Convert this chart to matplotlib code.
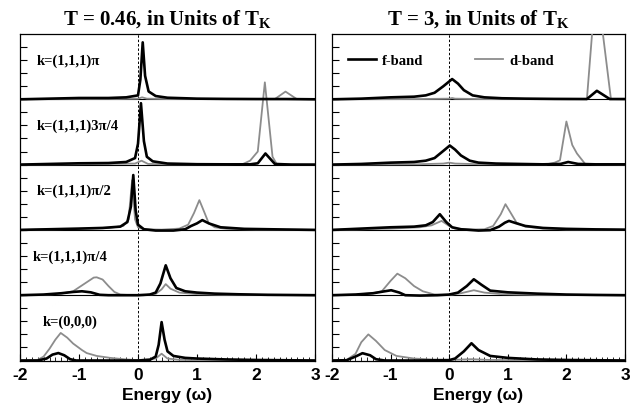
import matplotlib
matplotlib.use("Agg")
import matplotlib.pyplot as plt
from matplotlib.ticker import MultipleLocator
from matplotlib.lines import Line2D

plt.rcParams['mathtext.fontset'] = 'custom'
plt.rcParams['mathtext.rm'] = 'Liberation Serif:bold'
plt.rcParams['mathtext.bf'] = 'Liberation Serif:bold'

# ---------------- data ----------------
titles = ["T = 0.46, in Units of T$_{\\rm K}$", "T = 3, in Units of T$_{\\rm K}$"]
row_labels = ["k=(1,1,1)\u03c0", "k=(1,1,1)3\u03c0/4", "k=(1,1,1)\u03c0/2", "k=(1,1,1)\u03c0/4", "k=(0,0,0)"]
xticks = [-2, -1, 0, 1, 2, 3]
xtick_labels = ["-2", "-1", "0", "1", "2", "3"]
legend_labels = ["f-band", "d-band"]

# Left panel (T = 0.46), rows top -> bottom
L1_f_x = [-2, -1.5, -1.0, -0.5, -0.2, 0.0, 0.04, 0.08, 0.12, 0.18, 0.3, 0.5, 1.0, 1.5, 2.0, 2.5, 3.0]
L1_f_y = [0.0, 0.05, 0.1, 0.1, 0.15, 0.3, 1.5, 4.36, 1.8, 0.6, 0.25, 0.12, 0.05, 0.03, 0.02, 0.02, 0.0]
L1_d_x = [-2, -0.5, 0.0, 0.07, 0.15, 0.5, 2.32, 2.5, 2.69, 3.0]
L1_d_y = [0.0, 0.02, 0.05, 0.15, 0.05, 0.02, 0.02, 0.59, 0.02, 0.0]

L2_f_x = [-2, -1.5, -1, -0.5, -0.2, -0.05, 0.0, 0.05, 0.1, 0.15, 0.25, 0.5, 1.0, 1.5, 1.9, 2.03, 2.16, 2.32, 2.6, 3.0]
L2_f_y = [0.0, 0.05, 0.1, 0.12, 0.2, 0.5, 1.6, 4.7, 1.8, 0.6, 0.25, 0.08, 0.03, 0.02, 0.02, 0.1, 0.85, 0.05, 0.0, 0.0]
L2_d_x = [-2, -0.5, -0.05, 0.06, 0.17, 0.5, 1.5, 1.78, 1.9, 2.03, 2.15, 2.28, 2.35, 2.6, 3.0]
L2_d_y = [0.0, 0.05, 0.08, 0.3, 0.05, 0.02, 0.02, 0.05, 0.3, 1.0, 6.3, 0.6, 0.05, 0.02, 0.0]

L3_f_x = [-2, -1.5, -1, -0.6, -0.3, -0.18, -0.12, -0.08, -0.04, 0.0, 0.1, 0.3, 0.6, 0.8, 0.9, 1.0, 1.09, 1.2, 1.4, 1.8, 2.5, 3.0]
L3_f_y = [0.0, 0.05, 0.1, 0.15, 0.25, 0.6, 1.8, 4.2, 1.5, 0.4, 0.05, -0.05, -0.05, 0.05, 0.3, 0.5, 0.75, 0.5, 0.2, 0.08, 0.03, 0.0]
L3_d_x = [-2, -1, -0.5, -0.25, -0.16, -0.1, -0.05, 0.0, 0.1, 0.4, 0.7, 0.85, 0.95, 1.04, 1.12, 1.2, 1.3, 1.5, 2.0, 3.0]
L3_d_y = [0.0, 0.08, 0.15, 0.3, 0.8, 3.8, 0.8, 0.2, 0.05, 0.02, 0.1, 0.4, 1.3, 2.28, 1.4, 0.5, 0.2, 0.08, 0.03, 0.0]

L4_f_x = [-2, -1.6, -1.3, -1.1, -0.95, -0.8, -0.65, -0.5, -0.2, 0.0, 0.2, 0.3, 0.38, 0.47, 0.55, 0.65, 0.8, 1.0, 1.3, 1.7, 2.2, 3.0]
L4_f_y = [0.0, 0.05, 0.15, 0.25, 0.3, 0.22, 0.03, 0.0, 0.0, 0.0, 0.05, 0.2, 0.9, 2.29, 1.3, 0.55, 0.3, 0.2, 0.12, 0.07, 0.03, 0.0]
L4_d_x = [-2, -1.6, -1.3, -1.1, -0.9, -0.75, -0.7, -0.6, -0.5, -0.4, -0.3, -0.1, 0.1, 0.3, 0.4, 0.47, 0.55, 0.7, 1.0, 1.5, 3.0]
L4_d_y = [0.0, 0.03, 0.12, 0.3, 0.9, 1.35, 1.37, 1.2, 0.7, 0.25, 0.05, 0.0, 0.0, 0.1, 0.45, 0.85, 0.5, 0.2, 0.08, 0.03, 0.0]

L5_f_x = [-2, -1.7, -1.55, -1.45, -1.35, -1.25, -1.15, -1.05, -0.5, 0.0, 0.2, 0.3, 0.35, 0.4, 0.45, 0.5, 0.6, 0.8, 1.0, 1.5, 2.0, 3.0]
L5_f_y = [0.0, 0.0, 0.15, 0.45, 0.57, 0.4, 0.1, 0.0, 0.0, 0.0, 0.05, 0.3, 1.2, 2.94, 1.6, 0.7, 0.35, 0.2, 0.15, 0.08, 0.04, 0.0]
L5_d_x = [-2, -1.7, -1.6, -1.5, -1.4, -1.31, -1.2, -1.1, -0.95, -0.87, -0.7, -0.47, -0.2, 0.0, 0.3, 0.4, 0.5, 0.7, 1.0, 2.0, 3.0]
L5_d_y = [0.0, 0.05, 0.3, 0.9, 1.6, 2.11, 1.75, 1.3, 0.8, 0.57, 0.35, 0.2, 0.08, 0.03, 0.15, 0.52, 0.15, 0.05, 0.02, 0.01, 0.0]

# Right panel (T = 3), rows top -> bottom
R1_f_x = [-2, -1.5, -1.0, -0.6, -0.4, -0.25, -0.1, 0.05, 0.15, 0.25, 0.4, 0.6, 0.9, 1.3, 1.8, 2.35, 2.52, 2.74, 3.0]
R1_f_y = [0.0, 0.05, 0.15, 0.2, 0.3, 0.5, 1.0, 1.55, 1.2, 0.7, 0.3, 0.15, 0.08, 0.05, 0.03, 0.02, 0.65, 0.02, 0.02]
R1_d_x = [-2, -0.5, 0.0, 0.05, 0.1, 0.5, 2.0, 2.35, 2.51, 2.76, 3.0]
R1_d_y = [0.0, 0.02, 0.05, 0.1, 0.05, 0.02, 0.01, 0.02, 9.1, 0.02, 0.0]

R2_f_x = [-2, -1.5, -1.0, -0.6, -0.4, -0.25, -0.1, 0.01, 0.1, 0.2, 0.35, 0.5, 0.8, 1.2, 1.6, 1.9, 2.03, 2.2, 2.5, 3.0]
R2_f_y = [0.0, 0.05, 0.15, 0.2, 0.3, 0.5, 1.05, 1.46, 1.15, 0.7, 0.3, 0.15, 0.08, 0.05, 0.02, 0.05, 0.2, 0.05, 0.02, 0.02]
R2_d_x = [-2, -0.5, -0.1, 0.0, 0.1, 0.5, 1.4, 1.66, 1.8, 1.89, 2.0, 2.1, 2.18, 2.32, 2.5, 3.0]
R2_d_y = [0.0, 0.03, 0.08, 0.15, 0.08, 0.03, 0.02, 0.02, 0.15, 0.33, 3.3, 1.5, 0.85, 0.05, 0.02, 0.0]

R3_f_x = [-2, -1.5, -1.0, -0.6, -0.4, -0.28, -0.16, -0.05, 0.05, 0.2, 0.5, 0.7, 0.85, 0.95, 1.02, 1.15, 1.3, 1.6, 2.0, 2.5, 3.0]
R3_f_y = [0.0, 0.1, 0.2, 0.25, 0.35, 0.6, 1.2, 0.6, 0.2, 0.05, -0.05, -0.02, 0.25, 0.55, 0.69, 0.5, 0.3, 0.15, 0.08, 0.04, 0.02]
R3_d_x = [-2, -1, -0.5, -0.3, -0.13, 0.0, 0.1, 0.4, 0.6, 0.75, 0.88, 0.96, 1.05, 1.15, 1.3, 1.6, 2.0, 3.0]
R3_d_y = [0.0, 0.1, 0.2, 0.35, 0.69, 0.3, 0.1, 0.03, 0.05, 0.3, 1.2, 1.97, 1.3, 0.55, 0.25, 0.1, 0.04, 0.0]

R4_f_x = [-2, -1.6, -1.3, -1.1, -0.99, -0.85, -0.75, -0.5, -0.2, 0.0, 0.15, 0.3, 0.42, 0.55, 0.7, 1.0, 1.5, 2.0, 2.5, 3.0]
R4_f_y = [0.0, 0.05, 0.15, 0.3, 0.38, 0.2, 0.0, -0.03, 0.0, 0.05, 0.2, 0.7, 1.22, 0.8, 0.35, 0.22, 0.12, 0.05, 0.02, 0.0]
R4_d_x = [-2, -1.6, -1.3, -1.15, -1.0, -0.885, -0.75, -0.6, -0.45, -0.25, 0.0, 0.2, 0.42, 0.6, 0.9, 1.5, 3.0]
R4_d_y = [0.0, 0.05, 0.15, 0.3, 1.1, 1.65, 1.3, 0.7, 0.3, 0.05, 0.02, 0.15, 0.38, 0.2, 0.08, 0.03, 0.0]

R5_f_x = [-2, -1.75, -1.6, -1.48, -1.35, -1.25, -1.1, -0.5, 0.0, 0.1, 0.25, 0.38, 0.5, 0.7, 1.0, 1.5, 2.0, 3.0]
R5_f_y = [0.0, 0.02, 0.3, 0.56, 0.4, 0.1, 0.0, 0.0, 0.03, 0.15, 0.7, 1.32, 0.8, 0.35, 0.2, 0.08, 0.04, 0.0]
R5_d_x = [-2, -1.75, -1.6, -1.5, -1.38, -1.25, -1.1, -0.9, -0.6, -0.3, 0.0, 0.38, 0.7, 1.5, 3.0]
R5_d_y = [0.0, 0.05, 0.5, 1.4, 2.0, 1.5, 0.8, 0.35, 0.15, 0.08, 0.04, 0.1, 0.04, 0.02, 0.0]

left_f = [(L1_f_x, L1_f_y), (L2_f_x, L2_f_y), (L3_f_x, L3_f_y), (L4_f_x, L4_f_y), (L5_f_x, L5_f_y)]
left_d = [(L1_d_x, L1_d_y), (L2_d_x, L2_d_y), (L3_d_x, L3_d_y), (L4_d_x, L4_d_y), (L5_d_x, L5_d_y)]
right_f = [(R1_f_x, R1_f_y), (R2_f_x, R2_f_y), (R3_f_x, R3_f_y), (R4_f_x, R4_f_y), (R5_f_x, R5_f_y)]
right_d = [(R1_d_x, R1_d_y), (R2_d_x, R2_d_y), (R3_d_x, R3_d_y), (R4_d_x, R4_d_y), (R5_d_x, R5_d_y)]

# ---------------- drawing ----------------
ROW_H = 5.0
NROWS = 5
label_x = [-1.71, -1.71, -1.71, -1.78, -1.61]
SERIF = 'Liberation Serif'
SANS = 'Liberation Sans'
F_COLOR = 'black'
D_COLOR = '#8c8c8c'

fig = plt.figure(figsize=(6.44, 4.14), dpi=100)
ax_l = fig.add_axes([20 / 644, 52.5 / 414, 295 / 644, 326.5 / 414])
ax_r = fig.add_axes([332 / 644, 52.5 / 414, 293 / 644, 326.5 / 414])

panels = [(ax_l, left_f, left_d, titles[0]), (ax_r, right_f, right_d, titles[1])]
for pi, (ax, fdat, ddat, title) in enumerate(panels):
    for i in range(NROWS):
        off = (NROWS - 1 - i) * ROW_H
        dx, dy = ddat[i]
        fx, fy = fdat[i]
        ax.plot(dx, [v + off for v in dy], color=D_COLOR, lw=1.3, zorder=3)
        ax.plot(fx, [v + off for v in fy], color=F_COLOR, lw=1.9, zorder=4)
        if i > 0:
            ax.axhline(off + ROW_H, color='black', lw=0.8, zorder=2)
        if pi == 0:
            ax.text(label_x[i], off + 0.6 * ROW_H, row_labels[i], fontfamily=SERIF,
                    fontweight='bold', fontsize=10.5, va='center', ha='left')
    ax.axvline(0, color='black', lw=0.7, ls=(0, (2.5, 2)), zorder=1)
    ax.set_xlim(-2, 3)
    ax.set_ylim(0, NROWS * ROW_H)
    ax.set_xticks(xticks)
    ax.set_xticklabels(xtick_labels, fontfamily=SANS, fontweight='bold', fontsize=12.5)
    ax.xaxis.set_minor_locator(MultipleLocator(0.1))
    ax.set_yticks([k for k in range(1, int(NROWS * ROW_H))])
    ax.set_yticklabels([])
    ax.tick_params(axis='x', which='major', direction='in', length=5, width=0.8, pad=5)
    ax.tick_params(axis='x', which='minor', direction='in', length=3, width=0.6)
    ax.tick_params(axis='y', which='major', direction='in', length=5, width=0.8)
    for s in ax.spines.values():
        s.set_linewidth(0.9)
    ax.set_xlabel("Energy (\u03c9)", fontfamily=SANS, fontweight='bold', fontsize=12.5, labelpad=3)
    ax.set_title(title, fontfamily=SERIF, fontweight='bold', fontsize=15, pad=7)

handles = [Line2D([], [], color=F_COLOR, lw=1.9), Line2D([], [], color=D_COLOR, lw=1.3)]
ax_r.legend(handles, legend_labels, loc='center left', bbox_to_anchor=(0.03, 0.92), ncol=2,
            frameon=False, handlelength=1.9, handletextpad=0.4, columnspacing=3.6, borderpad=0,
            prop={'family': SERIF, 'weight': 'bold', 'size': 10.5})

fig.savefig('out.png', dpi=100)
